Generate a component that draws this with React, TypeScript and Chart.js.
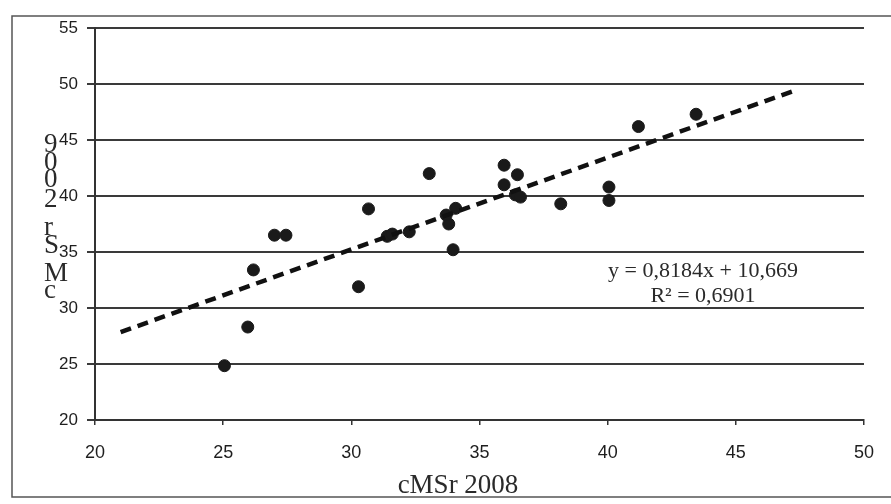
import React, { useEffect, useRef } from "react";
import { Chart, registerables } from "chart.js";

Chart.register(...registerables);

// Scatter data
const xValues = [25.05, 25.96, 26.18, 27.0, 27.45, 30.28, 30.67, 31.4, 31.6, 32.26, 33.04, 33.8, 33.7, 34.07, 33.97, 35.96, 35.96, 36.48, 36.4, 36.6, 38.17, 40.05, 40.05, 41.2, 43.45];
const yValues = [24.85, 28.3, 33.4, 36.5, 36.5, 31.9, 38.85, 36.4, 36.6, 36.8, 42.0, 37.5, 38.3, 38.9, 35.2, 42.75, 41.0, 41.9, 40.1, 39.9, 39.3, 40.8, 39.6, 46.2, 47.3];

// Trend line end points (as drawn)
const trendX = [21, 47.4];
const trendY = [27.85, 49.5];

// Axis settings
const xTicks = [20, 25, 30, 35, 40, 45, 50];
const yTicks = [20, 25, 30, 35, 40, 45, 50, 55];

const xTitle = "cMSr 2008";
const yTitle = "cMSr 2009";
const equationText = "y = 0,8184x + 10,669";
const r2Text = "R² = 0,6901";

const W = 891;
const H = 504;

const decorPlugin = {
  id: "decor",
  afterDraw(chart: any) {
    const ctx = chart.ctx as CanvasRenderingContext2D;
    ctx.save();
    // outer frame
    ctx.strokeStyle = "#555";
    ctx.lineWidth = 1.5;
    ctx.beginPath();
    ctx.moveTo(W, 16);
    ctx.lineTo(12, 16);
    ctx.lineTo(12, 497);
    ctx.lineTo(W, 497);
    ctx.stroke();

    // stacked y title (bottom to top)
    ctx.fillStyle = "#2a2a2a";
    ctx.font = "27px 'Liberation Serif', 'Times New Roman', serif";
    ctx.textAlign = "left";
    ctx.textBaseline = "alphabetic";
    const chars = yTitle.replace(" ", "").split("");
    const baselines = [298, 281, 253, 235, 207, 187, 170, 152];
    chars.forEach((c, i) => {
      ctx.fillText(c, 44, baselines[i]);
    });

    // x title
    ctx.textAlign = "center";
    ctx.font = "27px 'Liberation Serif', 'Times New Roman', serif";
    ctx.fillText(xTitle, 458, 493);

    // regression text
    ctx.font = "22px 'Liberation Serif', 'Times New Roman', serif";
    ctx.fillText(equationText, 703, 277);
    ctx.fillText(r2Text, 703, 302);
    ctx.restore();
  },
};

export default function App() {
  const ref = useRef<HTMLCanvasElement | null>(null);

  useEffect(() => {
    if (!ref.current) return;
    const points = xValues.map((x, i) => ({ x, y: yValues[i] }));
    const trend = trendX.map((x, i) => ({ x, y: trendY[i] }));
    const chart = new Chart(ref.current, {
      type: "scatter",
      data: {
        datasets: [
          {
            type: "line",
            data: trend,
            borderColor: "#111",
            borderWidth: 4.5,
            borderDash: [11, 7],
            pointRadius: 0,
            fill: false,
          } as any,
          {
            data: points,
            backgroundColor: "#1a1a1a",
            borderColor: "#1a1a1a",
            pointRadius: 6,
            pointHoverRadius: 6,
          },
        ],
      },
      options: {
        animation: false,
        responsive: false,
        devicePixelRatio: 1,
        layout: { padding: { left: 0, top: 28, right: 25, bottom: 0 } },
        plugins: {
          legend: { display: false },
          tooltip: { enabled: false },
        },
        scales: {
          x: {
            type: "linear",
            min: 20,
            max: 50,
            afterFit: (s: any) => {
              s.height = 84;
            },
            afterBuildTicks: (s: any) => {
              s.ticks = xTicks.map((v) => ({ value: v }));
            },
            grid: {
              drawOnChartArea: false,
              drawTicks: true,
              tickLength: 5,
              color: "#333",
              lineWidth: 1.5,
            },
            border: { display: true, color: "#333", width: 2 },
            ticks: {
              color: "#1e1e1e",
              padding: 17,
              maxRotation: 0,
              font: { family: "'Liberation Sans', Arial, sans-serif", size: 18 },
            },
          },
          y: {
            type: "linear",
            min: 20,
            max: 55,
            afterFit: (s: any) => {
              s.width = 95;
            },
            afterBuildTicks: (s: any) => {
              s.ticks = yTicks.map((v) => ({ value: v }));
            },
            grid: {
              drawOnChartArea: true,
              drawTicks: true,
              tickLength: 8,
              color: "#3a3a3a",
              lineWidth: 2,
            },
            border: { display: true, color: "#333", width: 2 },
            ticks: {
              color: "#1e1e1e",
              padding: 9,
              font: { family: "'Liberation Sans', Arial, sans-serif", size: 17 },
            },
          },
        },
      },
      plugins: [decorPlugin],
    });
    return () => chart.destroy();
  }, []);

  return (
    <div style={{ position: "fixed", left: 0, top: 0, width: W, height: H, background: "#fff" }}>
      <canvas ref={ref} width={W} height={H} style={{ display: "block" }} />
    </div>
  );
}
